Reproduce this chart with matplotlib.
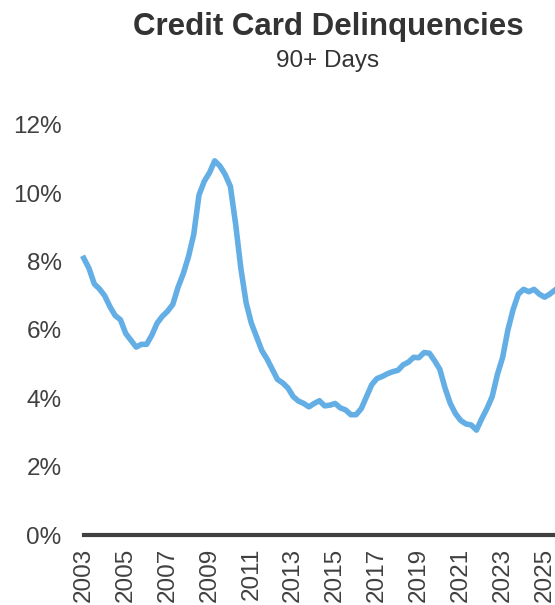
import numpy as np
import matplotlib
matplotlib.use("Agg")
import matplotlib.pyplot as plt
from matplotlib.ticker import FuncFormatter

plt.rcParams['font.family'] = ['Liberation Sans', 'DejaVu Sans']

# quarterly 90+ day delinquency rate (%), 2003Q1 onwards
start_year = 2003
rate = [
    8.10, 7.80, 7.35, 7.20,    # 2003
    7.00, 6.68, 6.42, 6.30,    # 2004
    5.90, 5.70, 5.50, 5.58,    # 2005
    5.58, 5.85, 6.20, 6.40,    # 2006
    6.55, 6.75, 7.25, 7.65,    # 2007
    8.15, 8.80, 9.95, 10.35,   # 2008
    10.60, 10.95, 10.80, 10.55,  # 2009
    10.20, 9.10, 7.80, 6.80,   # 2010
    6.20, 5.80, 5.40, 5.15,    # 2011
    4.85, 4.55, 4.45, 4.30,    # 2012
    4.05, 3.92, 3.85, 3.75,    # 2013
    3.85, 3.93, 3.78, 3.80,    # 2014
    3.85, 3.72, 3.66, 3.52,    # 2015
    3.52, 3.70, 4.05, 4.40,    # 2016
    4.58, 4.64, 4.72, 4.78,    # 2017
    4.82, 4.98, 5.06, 5.20,    # 2018
    5.19, 5.34, 5.32, 5.10,    # 2019
    4.85, 4.30, 3.85, 3.55,    # 2020
    3.35, 3.25, 3.22, 3.07,    # 2021
    3.40, 3.70, 4.05, 4.70,    # 2022
    5.20, 6.00, 6.60, 7.05,    # 2023
    7.19, 7.12, 7.19, 7.05,    # 2024
    6.96, 7.05, 7.17,          # 2025
]
year_ticks = list(range(2003, 2026, 2))
pct_ticks = [0, 2, 4, 6, 8, 10, 12]

years = start_year + np.arange(len(rate)) * 0.25

fig = plt.figure(figsize=(5.55, 6.05), dpi=100)
ax = fig.add_axes([0.151, 0.1157, 0.849, 0.6777])

ax.plot(years, rate, color='#64AEE6', lw=4, solid_joinstyle='round', clip_on=False)

ax.set_xlim(start_year, years[-1])
ax.set_ylim(0, 12)
ax.set_yticks(pct_ticks)
ax.yaxis.set_major_formatter(FuncFormatter(lambda v, p: f"{v:.0f}%"))
ax.set_xticks(year_ticks)
ax.set_xticklabels([str(y) for y in year_ticks], rotation=90)

for s in ['top', 'right', 'left']:
    ax.spines[s].set_visible(False)
ax.spines['bottom'].set_color('#404040')
ax.spines['bottom'].set_linewidth(3)

ax.tick_params(axis='y', length=0, pad=16, labelsize=17.5, labelcolor='#404040')
ax.tick_params(axis='x', length=0, pad=9, labelsize=17.5, labelcolor='#404040')

fig.text(0.591, 0.956, 'Credit Card Delinquencies', ha='center', va='center',
         fontsize=22.5, fontweight='bold', color='#333333')
fig.text(0.591, 0.900, '90+ Days', ha='center', va='center',
         fontsize=17.5, color='#333333')

fig.savefig('out.png', dpi=100)
